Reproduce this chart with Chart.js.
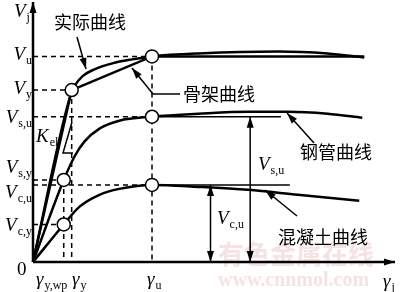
<!DOCTYPE html>
<html>
<head>
<meta charset="utf-8">
<script src="https://cdn.jsdelivr.net/npm/chart.js@4"></script>
<style>
  html, body { margin: 0; padding: 0; background: #fff; }
  #c { display: block; }
</style>
</head>
<body>
<canvas id="c" width="400" height="292"></canvas>
<script>
// key abscissae: gamma_y,wp, gamma_y, gamma_u
const gammaKeys = [31, 39, 120];
const gammaLabels = [["γ", "y,wp"], ["γ", "y"], ["γ", "u"]];
// key ordinates: Vu, Vy, Vs,u, Vs,y, Vc,u, Vc,y
const vKeys = [208, 174, 147, 83, 78, 38];
const vLabels = [["V", "u"], ["V", "y"], ["V", "s,u"], ["V", "s,y"], ["V", "c,u"], ["V", "c,y"]];

// skeleton (bilinear) curve
const skelX = [0, 39, 120, 334];
const skelY = [0, 174, 208, 208];
// actual curve
const actX = [0, 37, 42, 50, 62, 80, 100, 120, 167, 247, 297, 334];
const actY = [0, 166, 178, 188, 195, 201, 205, 208, 211, 213, 211, 207];
// steel tube curve
const steelX = [0, 31, 42, 52, 67, 87, 120, 167, 217, 257, 297, 332];
const steelY = [0, 83, 107, 122, 135, 143, 147, 150, 152, 152, 150, 146];
// concrete curve
const concX = [0, 31, 47, 67, 87, 120, 167, 217, 267, 329];
const concY = [0, 38, 56, 68, 74, 78, 76, 73, 68, 62];

// circled points
const markX = [39, 120, 120, 31, 120, 31];
const markY = [174, 208, 147, 83, 78, 38];

const pts = (xs, ys) => xs.map((x, i) => ({ x: x, y: ys[i] }));

const datasets = [];
function addLine(xs, ys, opts) {
    datasets.push(Object.assign({
        data: pts(xs, ys), showLine: true, pointRadius: 0, borderColor: "#000",
        borderWidth: 2.5, fill: false, clip: false
    }, opts));
}

// dashed guide lines (from the axes to the key points)
const guides = [
    [[0, gammaKeys[2]], [vKeys[0], vKeys[0]]], [[gammaKeys[2], gammaKeys[2]], [vKeys[0], 0]],
    [[0, gammaKeys[1]], [vKeys[1], vKeys[1]]], [[gammaKeys[1], gammaKeys[1]], [vKeys[1], 0]],
    [[0, gammaKeys[2]], [vKeys[2], vKeys[2]]],
    [[0, gammaKeys[0]], [vKeys[3], vKeys[3]]], [[gammaKeys[0], gammaKeys[0]], [vKeys[3], 0]],
    [[0, gammaKeys[2]], [vKeys[4], vKeys[4]]],
    [[0, gammaKeys[0]], [vKeys[5], vKeys[5]]]
];
guides.forEach(g => addLine(g[0], g[1], { borderWidth: 1.5, borderDash: [5, 4] }));

// reference flats
addLine([120, 250], [147, 147], { borderWidth: 1.5 });
addLine([120, 259], [78, 78], { borderWidth: 1.5 });

addLine(skelX, skelY, { tension: 0 });
addLine(actX, actY, { cubicInterpolationMode: "monotone" });
addLine(steelX, steelY, { cubicInterpolationMode: "monotone" });
addLine(concX, concY, { cubicInterpolationMode: "monotone" });

datasets.push({
    data: pts(markX, markY), showLine: false, pointRadius: 6.5, pointHoverRadius: 6.5,
    pointBackgroundColor: "#fff", pointBorderColor: "#000", pointBorderWidth: 1.5,
    clip: false, order: -1
});

function arrowHead(ctx, x1, y1, x2, y2, len, wid) {
    const a = Math.atan2(y2 - y1, x2 - x1);
    ctx.beginPath();
    ctx.moveTo(x2, y2);
    ctx.lineTo(x2 - len * Math.cos(a) + wid * Math.sin(a), y2 - len * Math.sin(a) - wid * Math.cos(a));
    ctx.lineTo(x2 - len * Math.cos(a) - wid * Math.sin(a), y2 - len * Math.sin(a) + wid * Math.cos(a));
    ctx.closePath();
    ctx.fill();
}
function arrow(ctx, x1, y1, x2, y2, w) {
    ctx.lineWidth = w || 1.5;
    ctx.beginPath(); ctx.moveTo(x1, y1); ctx.lineTo(x2, y2); ctx.stroke();
    arrowHead(ctx, x1, y1, x2, y2, 11, 3.5);
}
function sym(ctx, main, sub, x, y, align) {
    ctx.font = "italic 19px 'Liberation Serif'";
    const mw = ctx.measureText(main).width;
    ctx.font = "12px 'Liberation Serif'";
    const sw = ctx.measureText(sub).width;
    let x0 = x;
    if (align === "right") x0 = x - mw - sw;
    ctx.textAlign = "left";
    ctx.textBaseline = "middle";
    ctx.font = "italic 19px 'Liberation Serif'";
    ctx.fillText(main, x0, y);
    ctx.font = "12px 'Liberation Serif'";
    ctx.fillText(sub, x0 + mw + 1, y + 6);
}

const decor = {
    id: "decor",
    beforeDatasetsDraw(chart) {
        const ctx = chart.ctx;
        ctx.save();
        ctx.fillStyle = "rgba(225,160,160,0.3)";
        ctx.textAlign = "left";
        ctx.textBaseline = "middle";
        ctx.font = "bold 26px 'Noto Sans CJK SC'";
        ctx.fillText("有色金属在线", 218, 254);
        ctx.font = "bold 20px 'Liberation Serif'";
        ctx.fillText("www.cnnmol.com", 218, 281);
        ctx.restore();
    },
    afterDatasetsDraw(chart) {
        const ctx = chart.ctx;
        const xs = chart.scales.x, ys = chart.scales.y;
        const X = v => xs.getPixelForValue(v), Y = v => ys.getPixelForValue(v);
        ctx.save();
        ctx.strokeStyle = "#000";
        ctx.fillStyle = "#000";

        // axes
        arrow(ctx, X(0), Y(0), X(0), 2, 2.5);
        arrow(ctx, X(0), Y(0), 395, Y(0), 2.5);

        // dimension arrows
        [[219, vKeys[2]], [179, vKeys[4]]].forEach(d => {
            ctx.lineWidth = 1.5;
            ctx.beginPath(); ctx.moveTo(X(d[0]), Y(0)); ctx.lineTo(X(d[0]), Y(d[1])); ctx.stroke();
            arrowHead(ctx, X(d[0]), Y(d[1] / 2), X(d[0]), Y(d[1]), 11, 3.5);
            arrowHead(ctx, X(d[0]), Y(d[1] / 2), X(d[0]), Y(0), 11, 3.5);
        });

        // K_el slope marker
        ctx.lineWidth = 1.5;
        ctx.beginPath();
        ctx.moveTo(72, 122); ctx.lineTo(63, 153); ctx.lineTo(73, 153);
        ctx.stroke();

        // leaders
        arrow(ctx, 77, 37, 86, 69);
        ctx.lineWidth = 1.5;
        ctx.beginPath(); ctx.moveTo(180, 94); ctx.lineTo(153, 94); ctx.stroke();
        arrow(ctx, 153, 94, 132, 68);
        arrow(ctx, 314, 143, 287, 113);
        arrow(ctx, 297, 216, 265, 190);

        // curve names
        ctx.font = "18px 'Noto Sans CJK SC'";
        ctx.textBaseline = "middle";
        ctx.textAlign = "left";
        ctx.fillText("实际曲线", 54, 22);
        ctx.fillText("骨架曲线", 183, 94);
        ctx.fillText("钢管曲线", 300, 152);
        ctx.fillText("混凝土曲线", 278, 237);

        // symbols
        const vLabelY = [55, 89, 118, 168, 193, 226];
        vLabels.forEach((l, i) => sym(ctx, l[0], l[1], 31, vLabelY[i], "right"));
        sym(ctx, "V", "j", 14, 12, "left");
        sym(ctx, "K", "el", 36, 137, "left");
        const gLabelX = [36, 72, 147];
        gammaLabels.forEach((l, i) => sym(ctx, l[0], l[1], gLabelX[i], 280, "left"));
        sym(ctx, "γ", "j", 383, 282, "left");
        sym(ctx, "V", "s,u", 258, 165, "left");
        sym(ctx, "V", "c,u", 217, 219, "left");
        ctx.font = "19px 'Liberation Serif'";
        ctx.textAlign = "left";
        ctx.fillText("0", 17, 270);
        ctx.restore();
    }
};

new Chart(document.getElementById("c"), {
    type: "scatter",
    data: { datasets: datasets },
    options: {
        responsive: false,
        animation: false,
        devicePixelRatio: 1,
        layout: { padding: { left: 33, right: 5, top: 5, bottom: 30 } },
        plugins: { legend: { display: false }, tooltip: { enabled: false } },
        scales: {
            x: { type: "linear", min: 0, max: 362, display: false },
            y: { type: "linear", min: 0, max: 257, display: false }
        }
    },
    plugins: [decor]
});
</script>
</body>
</html>
